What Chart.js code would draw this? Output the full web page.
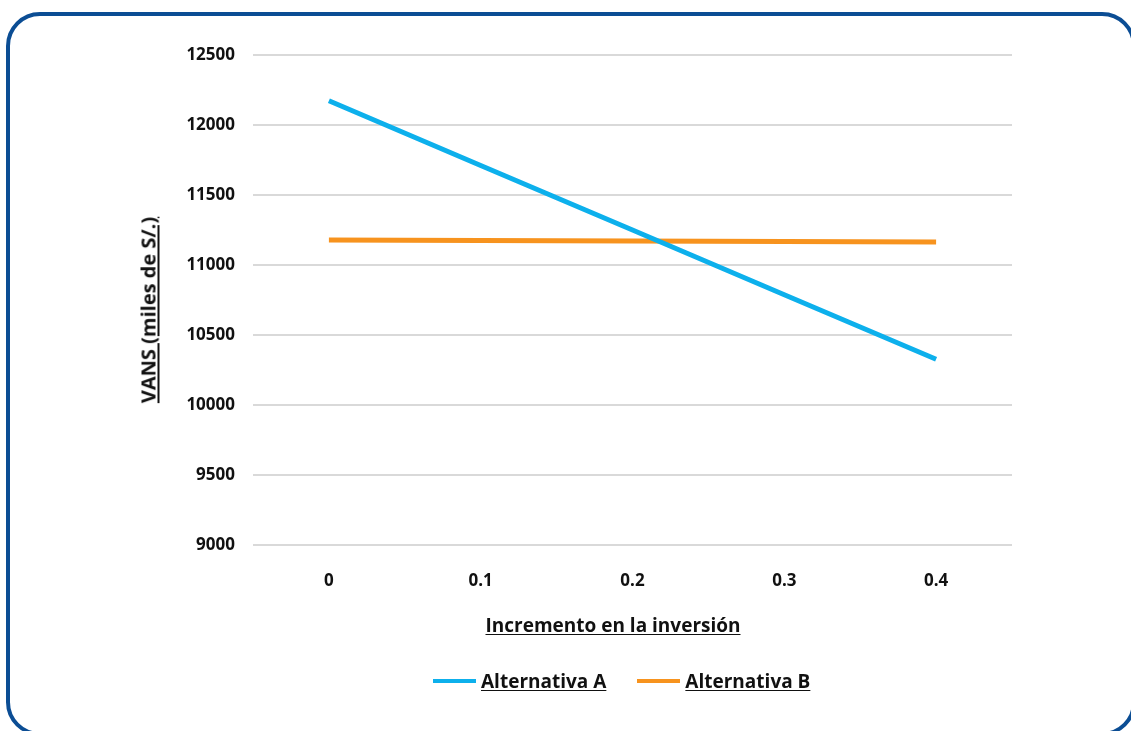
<!DOCTYPE html>
<html>
<head>
<meta charset="utf-8">
<script src="https://cdn.jsdelivr.net/npm/chart.js@4"></script>
<style>
  html,body{margin:0;padding:0;background:#fff;width:1131px;height:731px;overflow:hidden;font-family:"Open Sans",Lato,sans-serif;}
  .frame{position:absolute;left:6px;top:12px;width:1130px;height:724px;box-sizing:border-box;border:4px solid #0b4d94;border-radius:34px;}
  #chart{position:absolute;left:0;top:0;}
  .ttl{position:absolute;font-weight:700;font-size:19px;color:#111;text-decoration:underline;text-underline-offset:2px;white-space:nowrap;}
  #ytitle{left:148px;top:310px;font-size:20px;transform:translate(-50%,-50%) rotate(-90deg);}
  #xtitle{left:613px;top:625px;transform:translate(-50%,-50%);}
  #legend{position:absolute;left:433px;top:668px;display:flex;align-items:center;font-weight:700;font-size:19px;color:#111;}
  #legend .item{display:flex;align-items:center;margin-right:31px;}
  #legend .sw{display:inline-block;width:43px;height:4px;margin-right:5px;}
  #legend .lb{text-decoration:underline;text-underline-offset:2px;}
</style>
</head>
<body>
<div class="frame"></div>
<canvas id="chart" width="1131" height="731"></canvas>
<div class="ttl" id="ytitle">VANS (miles de S/.)</div>
<div class="ttl" id="xtitle">Incremento en la inversión</div>
<div id="legend"></div>
<script>
// data
const categories = ['0', '0.1', '0.2', '0.3', '0.4'];
const altA = [12173, 11711, 11250, 10788, 10327];
const altB = [11178, 11175, 11171, 11168, 11164];
const seriesNames = ['Alternativa A', 'Alternativa B'];
const seriesColors = ['#0db0ec', '#f7931e'];
const yMin = 9000, yMax = 12500, yStep = 500;

const font = {family: '"Open Sans", Lato, sans-serif', weight: 'bold', size: 17};

new Chart(document.getElementById('chart'), {
  type: 'line',
  data: {
    labels: categories,
    datasets: [altA, altB].map((d, i) => ({
      label: seriesNames[i], data: d,
      borderColor: seriesColors[i], backgroundColor: seriesColors[i],
      borderWidth: 5, pointRadius: 0, tension: 0, borderCapStyle: 'butt'
    }))
  },
  options: {
    responsive: false, animation: false,
    layout: {padding: {top: 55, right: 119, left: 0, bottom: 0}},
    plugins: {legend: {display: false}, tooltip: {enabled: false}},
    scales: {
      x: {
        offset: true,
        grid: {display: false, drawTicks: false},
        border: {display: false},
        ticks: {color: '#111', font, padding: 26},
        afterFit: s => { s.height = 186; }
      },
      y: {
        min: yMin, max: yMax,
        grid: {color: '#d9d9d9', lineWidth: 2, drawTicks: false},
        border: {display: false},
        ticks: {stepSize: yStep, color: '#111', font, padding: 18, callback: v => String(v)},
        afterFit: s => { s.width = 253; }
      }
    }
  }
});

// legend as html so the labels can be underlined
const leg = document.getElementById('legend');
seriesNames.forEach((n, i) => {
  leg.innerHTML += `<span class="item"><span class="sw" style="background:${seriesColors[i]}"></span><span class="lb">${n}</span></span>`;
});
</script>
</body>
</html>
